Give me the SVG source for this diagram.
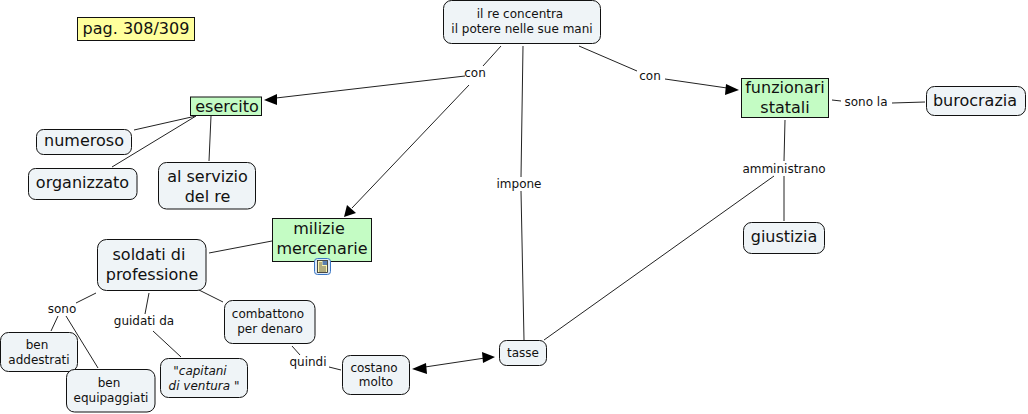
<svg xmlns="http://www.w3.org/2000/svg" width="1028" height="414" viewBox="0 0 1028 414">
<style>
text{font-family:"DejaVu Sans",Verdana,sans-serif;fill:#111;text-anchor:middle}
.c{fill:#eff4f7;stroke:#111;stroke-width:1}
.g{fill:#c4fcc4;stroke:#111;stroke-width:1}
.y{fill:#ffff9c;stroke:#111;stroke-width:1}
.s{font-size:12px}.p{font-size:16px}
.l{font-size:12px}
#connectors line{stroke:#222;stroke-width:1;fill:none}
.a{fill:#000;stroke:none}
</style>
<rect width="1028" height="414" fill="#fff"/>
<g id="connectors">
<line x1="501" y1="46" x2="483" y2="66"/>
<line x1="465" y1="76" x2="276" y2="98"/>
<line x1="469" y1="85" x2="352" y2="208"/>
<line x1="523" y1="46" x2="521" y2="177"/>
<line x1="521" y1="191" x2="524" y2="340"/>
<line x1="579" y1="46" x2="637" y2="71"/>
<line x1="665" y1="79" x2="727" y2="88"/>
<line x1="832" y1="100" x2="841" y2="101"/>
<line x1="892" y1="103" x2="925" y2="102"/>
<line x1="785" y1="120" x2="784" y2="161"/>
<line x1="784" y1="176" x2="784" y2="221"/>
<line x1="774" y1="176" x2="544" y2="340"/>
<line x1="196" y1="116" x2="134" y2="130"/>
<line x1="196" y1="116" x2="112" y2="167"/>
<line x1="211" y1="116" x2="209" y2="161"/>
<line x1="272" y1="241" x2="209" y2="253"/>
<line x1="96" y1="293" x2="76" y2="303"/>
<line x1="58" y1="316" x2="51" y2="331"/>
<line x1="66" y1="316" x2="98" y2="368"/>
<line x1="149" y1="293" x2="145" y2="314"/>
<line x1="153" y1="331" x2="181" y2="357"/>
<line x1="199" y1="290" x2="223" y2="302"/>
<line x1="292" y1="346" x2="300" y2="355"/>
<line x1="329" y1="367" x2="341" y2="370"/>
<line x1="425" y1="367" x2="485" y2="358"/>
<polygon class="a" points="264,100 277,94 277,105"/>
<polygon class="a" points="344,217 347,205 356,213"/>
<polygon class="a" points="739,90 726,84 725,95"/>
<polygon class="a" points="412,369 426,363 427,374"/>
<polygon class="a" points="495,357 482,352 483,363"/>
</g>
<g id="n-pag"><rect class="y" x="77.500" y="17.500" width="117" height="23"/><text class="p" x="136" y="34">pag. 308/309</text></g>
<g id="n-re"><rect class="c" x="443.500" y="0.500" width="157" height="43" rx="8"/><text class="s" x="520" y="18">il re concentra</text><text class="s" x="522" y="33">il potere nelle sue mani</text></g>
<g id="n-esercito"><rect class="g" x="190.500" y="97" width="71" height="18.500"/><text class="p" x="227" y="112">esercito</text></g>
<g id="n-numeroso"><rect class="c" x="36.500" y="129.500" width="95" height="25" rx="7"/><text class="p" x="84" y="146">numeroso</text></g>
<g id="n-organizzato"><rect class="c" x="28.500" y="168.500" width="108.500" height="31" rx="7"/><text class="p" x="82.500" y="188">organizzato</text></g>
<g id="n-servizio"><rect class="c" x="158.500" y="162.500" width="97" height="46.500" rx="8"/><text class="p" x="207.500" y="182">al servizio</text><text class="p" x="207.500" y="202">del re</text></g>
<g id="n-milizie"><rect class="g" x="272.500" y="218.500" width="99" height="43"/><text class="p" x="319" y="234">milizie</text><text class="p" x="322" y="254">mercenarie</text>
<rect x="314.500" y="258.500" width="16" height="16" rx="3" fill="#dce9f8" stroke="#3a76c4"/><rect x="317.500" y="260.500" width="10" height="12" fill="#fdf6b0" stroke="#222" stroke-width=".8"/><rect x="322.500" y="261" width="4.500" height="4" fill="#5a7fb0"/><path d="M319 267h7M319 269h7M319 271h7M319 263h3M319 265h3" stroke="#222" stroke-width=".7" fill="none"/></g>
<g id="n-soldati"><rect class="c" x="97.500" y="239.500" width="108.500" height="51" rx="9"/><text class="p" x="149" y="260">soldati di</text><text class="p" x="152" y="280">professione</text></g>
<g id="n-combattono"><rect class="c" x="224.500" y="300.500" width="90.500" height="43" rx="8"/><text class="s" x="268" y="318">combattono</text><text class="s" x="270" y="333">per denaro</text></g>
<g id="n-addestrati"><rect class="c" x="0.500" y="332.500" width="77" height="39" rx="8"/><text class="s" x="37" y="349">ben</text><text class="s" x="39" y="364">addestrati</text></g>
<g id="n-equipaggiati"><rect class="c" x="66.500" y="369.500" width="88.500" height="42.500" rx="8"/><text class="s" x="109" y="387">ben</text><text class="s" x="111" y="402">equipaggiati</text></g>
<g id="n-capitani"><rect class="c" x="160.500" y="358.500" width="87" height="39" rx="8"/><text class="s" x="200" y="375" font-style="italic">"capitani</text><text class="s" x="204" y="390"><tspan font-style="italic">di ventura </tspan>"</text></g>
<g id="n-costano"><rect class="c" x="342.500" y="355.500" width="67" height="39" rx="8"/><text class="s" x="374" y="372">costano</text><text class="s" x="376" y="386">molto</text></g>
<g id="n-tasse"><rect class="c" x="499.500" y="340.500" width="47" height="25" rx="7"/><text class="s" x="523" y="357">tasse</text></g>
<g id="n-funzionari"><rect class="g" x="741.500" y="78.500" width="87" height="39"/><text class="p" x="785" y="93">funzionari</text><text class="p" x="785" y="113">statali</text></g>
<g id="n-burocrazia"><rect class="c" x="926.500" y="86.500" width="99" height="29" rx="8"/><text class="p" x="975" y="106">burocrazia</text></g>
<g id="n-giustizia"><rect class="c" x="743.500" y="222.500" width="81" height="31" rx="8"/><text class="p" x="784" y="242">giustizia</text></g>
<g id="labels">
<text class="l" x="475" y="77">con</text>
<text class="l" x="650" y="80">con</text>
<text class="l" x="866" y="106">sono la</text>
<text class="l" x="784" y="173">amministrano</text>
<text class="l" x="519" y="188">impone</text>
<text class="l" x="62" y="313">sono</text>
<text class="l" x="144" y="325">guidati da</text>
<text class="l" x="308" y="366">quindi</text>
</g>
</svg>
